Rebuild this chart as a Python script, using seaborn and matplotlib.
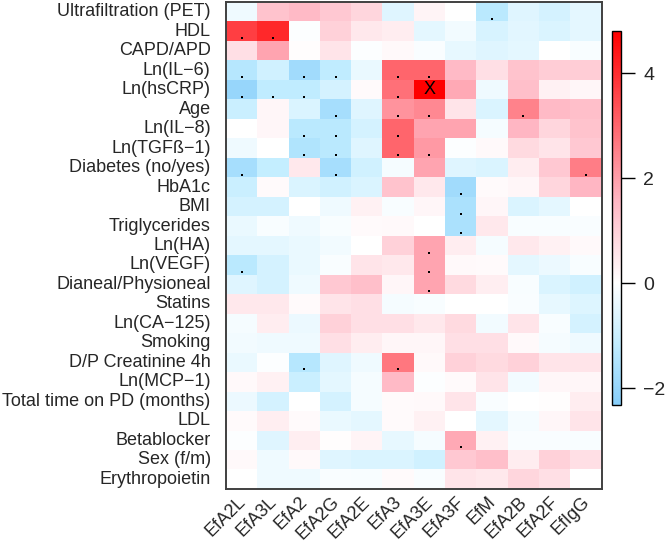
"""Correlation heatmap of clinical variables vs. effluent markers."""
import matplotlib

matplotlib.use("Agg")
import matplotlib.pyplot as plt
import matplotlib.transforms as mtransforms
import numpy as np
import pandas as pd
import seaborn as sns
from matplotlib import font_manager
from matplotlib.colors import LinearSegmentedColormap

# make sure the Arial-like face is registered (cache may predate it)
for f in font_manager.findSystemFonts():
    if "Liberation" in f:
        try:
            font_manager.fontManager.addfont(f)
        except Exception:
            pass

sns.set_theme(style="white")
plt.rcParams["font.family"] = ["Liberation Sans", "DejaVu Sans"]

row_labels = [
    "Ultrafiltration (PET)", "HDL", "CAPD/APD", "Ln(IL\u22126)", "Ln(hsCRP)",
    "Age", "Ln(IL\u22128)", "Ln(TGF\u00df\u22121)", "Diabetes (no/yes)", "HbA1c",
    "BMI", "Triglycerides", "Ln(HA)", "Ln(VEGF)", "Dianeal/Physioneal",
    "Statins", "Ln(CA\u2212125)", "Smoking", "D/P Creatinine 4h", "Ln(MCP\u22121)",
    "Total time on PD (months)", "LDL", "Betablocker", "Sex (f/m)",
    "Erythropoietin",
]
col_labels = ["EfA2L", "EfA3L", "EfA2", "EfA2G", "EfA2E", "EfA3", "EfA3E",
              "EfA3F", "EfM", "EfA2B", "EfA2F", "EfIgG"]

values = [
    [-0.3, 1.3, 1.5, 1.2, 0.9, -0.6, 0.25, 0.0, -1.3, -0.6, -0.8, -0.5],
    [3.7, 4.1, -0.05, 1.0, 0.5, 0.4, -0.5, -0.25, -0.75, -0.55, -0.7, -0.5],
    [0.7, 1.9, 0.05, 0.6, -0.05, 0.15, -0.1, -0.45, -0.6, -0.5, 0.0, -0.15],
    [-1.4, -0.9, -1.8, -1.2, -0.4, 3.0, 3.0, 1.5, 0.7, 1.3, 1.1, 1.1],
    [-2.0, -1.2, -1.2, -0.8, 0.1, 2.8, 4.8, 1.8, -0.3, 1.4, 0.3, 0.2],
    [-1.0, 0.2, -0.7, -1.7, -0.6, 2.2, 2.4, 0.6, -0.7, 2.5, 1.5, 1.4],
    [0.0, 0.2, -1.3, -1.3, -0.8, 3.0, 1.9, 1.9, -0.2, 1.6, 0.9, 1.3],
    [-0.3, 0.0, -1.5, -1.3, -0.6, 3.0, 2.1, -0.05, 0.15, 0.8, 0.6, 1.2],
    [-1.7, -1.1, 0.5, -1.7, -0.9, -0.2, 1.9, -0.6, -0.7, 0.4, 1.2, 2.6],
    [-1.0, 0.1, -0.7, -0.9, -0.7, 1.3, 0.5, -1.8, 0.1, 0.2, 0.9, 1.6],
    [-0.8, -0.8, 0.0, -0.3, 0.3, -0.15, 0.2, -1.6, 0.2, -0.7, -0.5, 0.0],
    [-0.4, -0.15, -0.3, -0.15, 0.1, 0.15, 0.0, -1.6, 0.5, -0.15, -0.15, -0.1],
    [-0.5, -0.5, -0.4, -0.25, 0.0, 1.0, 1.9, 0.4, -0.2, 0.5, 0.3, 0.15],
    [-1.3, -0.8, -0.4, -0.1, 0.6, 0.5, 1.9, 0.15, 0.1, -0.5, -0.35, -0.15],
    [-0.6, -0.8, -0.3, 1.2, 1.4, 0.2, 1.9, 0.8, 0.35, -0.15, -0.7, -0.9],
    [0.5, 0.5, 0.1, 0.6, 0.7, -0.2, -0.15, 0.0, 0.0, -0.1, -0.45, -0.65],
    [-0.2, 0.4, -0.35, 1.0, 0.7, 0.7, 0.5, 0.8, -0.25, 0.6, -0.15, -0.8],
    [-0.25, -0.3, -0.3, 0.7, 0.4, 0.2, 0.2, 0.7, 0.7, 0.15, -0.2, -0.3],
    [-0.4, -0.05, -1.4, -0.6, -0.3, 2.7, 0.15, 1.0, 0.8, 1.0, 0.6, 0.6],
    [0.15, 0.3, -1.0, -0.5, -0.2, 1.5, -0.05, 0.1, 0.6, -0.25, 0.2, 0.2],
    [-0.35, -0.8, 0.0, -0.8, -0.2, 0.1, 0.15, 0.6, -0.1, 0.0, 0.05, 0.4],
    [0.1, 0.35, 0.1, -0.4, -0.5, 0.1, 0.3, 0.0, -0.5, -0.2, 0.2, 0.6],
    [-0.05, -0.6, 0.35, 0.05, 0.25, -0.45, -0.2, 1.8, 0.3, -0.1, -0.1, -0.15],
    [0.15, -0.3, 0.15, -0.6, -0.7, -0.7, -0.9, 1.2, 1.4, 0.4, 1.0, 0.7],
    [0.0, -0.3, -0.3, -0.1, -0.15, 0.1, -0.1, 0.6, 0.5, 0.9, 0.7, 0.0],
]

# significant cells (row, col) marked with a dot; the strongest one with X
dot_cells = [
    (0, 8), (1, 0), (1, 1),
    (3, 0), (3, 2), (3, 3), (3, 5), (3, 6),
    (4, 0), (4, 1), (4, 2), (4, 5),
    (5, 3), (5, 5), (5, 6), (5, 9),
    (6, 2), (6, 3), (6, 5),
    (7, 2), (7, 3), (7, 5), (7, 6),
    (8, 0), (8, 3), (8, 11),
    (9, 7), (10, 7), (11, 7),
    (12, 6), (13, 0), (13, 6), (14, 6),
    (18, 2), (18, 5), (22, 7),
]
cross_cells = [(4, 6)]

vmin, vmax = -2.32, 4.8

df = pd.DataFrame(values, index=row_labels, columns=col_labels)
annot = np.full(df.shape, "", dtype=object)
for r, c in cross_cells:
    annot[r, c] = "X"

z = -vmin / (vmax - vmin)
cmap = LinearSegmentedColormap.from_list("skyred", [
    (0.0, "#87cefa"), (z * 0.5, "#c2edff"), (z, "#ffffff"),
    (z + (1 - z) * 0.33, "#ffb6c3"), (1.0, "#ff0000")])

fig = plt.figure(figsize=(6.66, 5.45), dpi=100)
ax = fig.add_axes([0.3393, 0.1028, 0.5640, 0.8935])
cax = fig.add_axes([0.9189, 0.2569, 0.0135, 0.6862])

sns.heatmap(df, ax=ax, cbar_ax=cax, cmap=cmap, vmin=vmin, vmax=vmax,
            linewidths=0, annot=annot, fmt="",
            annot_kws={"fontsize": 13, "color": "black"})

# dots sit low in the cell, like a "." cell note
dr = np.array([r for r, _ in dot_cells])
dc = np.array([c for _, c in dot_cells])
ax.scatter(dc + 0.5, dr + 0.86, marker="s", s=3, color="black", lw=0)

for s in ax.spines.values():
    s.set_visible(True)
    s.set_color("#404040")
    s.set_linewidth(1.4)

ax.set_xlabel("")
ax.set_ylabel("")
ax.set_yticks(np.arange(len(row_labels)) + 0.5)
ax.set_yticklabels(row_labels, rotation=0, fontsize=13)
ax.set_xticks(np.arange(len(col_labels)) + 0.5)
ax.set_xticklabels(col_labels, rotation=45, ha="right",
                   rotation_mode="anchor", fontsize=13)
ax.tick_params(axis="y", length=0, pad=11)
ax.tick_params(axis="x", length=0, pad=6)

# nudge the slanted labels a little up and to the left
shift = mtransforms.ScaledTranslation(-5 / 100, 4 / 100, fig.dpi_scale_trans)
for lab in ax.get_xticklabels():
    lab.set_transform(lab.get_transform() + shift)

cbar = ax.collections[0].colorbar
cbar.set_ticks([-2, 0, 2, 4])
cbar.ax.tick_params(length=10, width=1, labelsize=14, pad=6, color="black")
cbar.outline.set_visible(True)
cbar.outline.set_edgecolor("black")
cbar.outline.set_linewidth(1)

fig.savefig("out.png", dpi=100)
plt.close(fig)
